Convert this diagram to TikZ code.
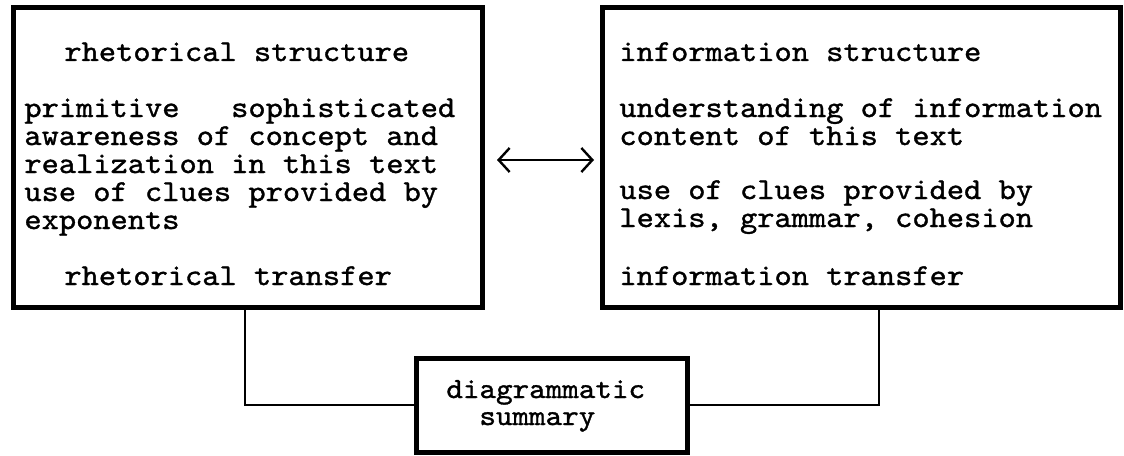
\documentclass[tikz,border=0pt]{standalone}
\usepackage{fontspec}
\usetikzlibrary{arrows.meta}
\newfontfamily\tw{lmmono10-regular.otf}[FakeStretch=1.08,FakeBold=1.15]
\tikzset{
  bigbox/.style={draw=black,line width=2.5pt,fill=none,inner sep=0pt},
  conn/.style={draw=black,line width=0.85pt},
  txt/.style={anchor=base west,inner sep=0pt,font=\tw\fontsize{15.2pt}{14pt}\selectfont,text=black},
  stxt/.style={anchor=base west,inner sep=0pt,font=\tw\fontsize{14.6pt}{14pt}\selectfont,text=black},
  dblarrow/.style={draw=black,line width=1.2pt,{Straight Barb[length=5.5pt,width=12pt,line width=1.2pt]}-{Straight Barb[length=5.5pt,width=12pt,line width=1.2pt]}}
}
\begin{document}
\begin{tikzpicture}[x=0.5pt,y=-0.5pt]
\useasboundingbox (0,0) rectangle (1124,455);
% boxes
\node[bigbox,draw,minimum width=234.5pt,minimum height=150pt] (L) at (247.5,157) {};
\node[bigbox,draw,minimum width=259pt,minimum height=150pt] (R) at (861,157) {};
\node[bigbox,draw,minimum width=135.5pt,minimum height=47pt] (B) at (551.5,405) {};
% left text
\node[txt] (l1) at (64,61) {rhetorical structure};
\node[txt] (l2) at (24,117) {primitive\phantom{xxx}sophisticated};
\node[txt] (l3) at (24,145) {awareness of concept and};
\node[txt] (l4) at (24,173) {realization in this text};
\node[txt] (l5) at (24,201) {use of clues provided by};
\node[txt] (l6) at (24,229) {exponents};
\node[txt] (l7) at (64,285) {rhetorical transfer};
% right text
\node[txt] (r1) at (619,61) {information structure};
\node[txt] (r2) at (619,117) {understanding of information};
\node[txt] (r3) at (619,145) {content of this text};
\node[txt] (r4) at (619,199) {use of clues provided by};
\node[txt] (r5) at (619,227) {lexis, grammar, cohesion};
\node[txt] (r6) at (619,285) {information transfer};
% bottom text
\node[stxt] (b1) at (446,398) {diagrammatic};
\node[stxt] (b2) at (479,425) {summary};
% arrow
\coordinate (al) at (497,160);
\coordinate (ar) at (594,160);
\draw[dblarrow] (al) -- (ar);
% connectors
\coordinate (lx) at (245,0);
\coordinate (rx) at (879,0);
\draw[conn] (B.west) -| (L.south -| lx);
\draw[conn] (B.east) -| (R.south -| rx);
\end{tikzpicture}
\end{document}
